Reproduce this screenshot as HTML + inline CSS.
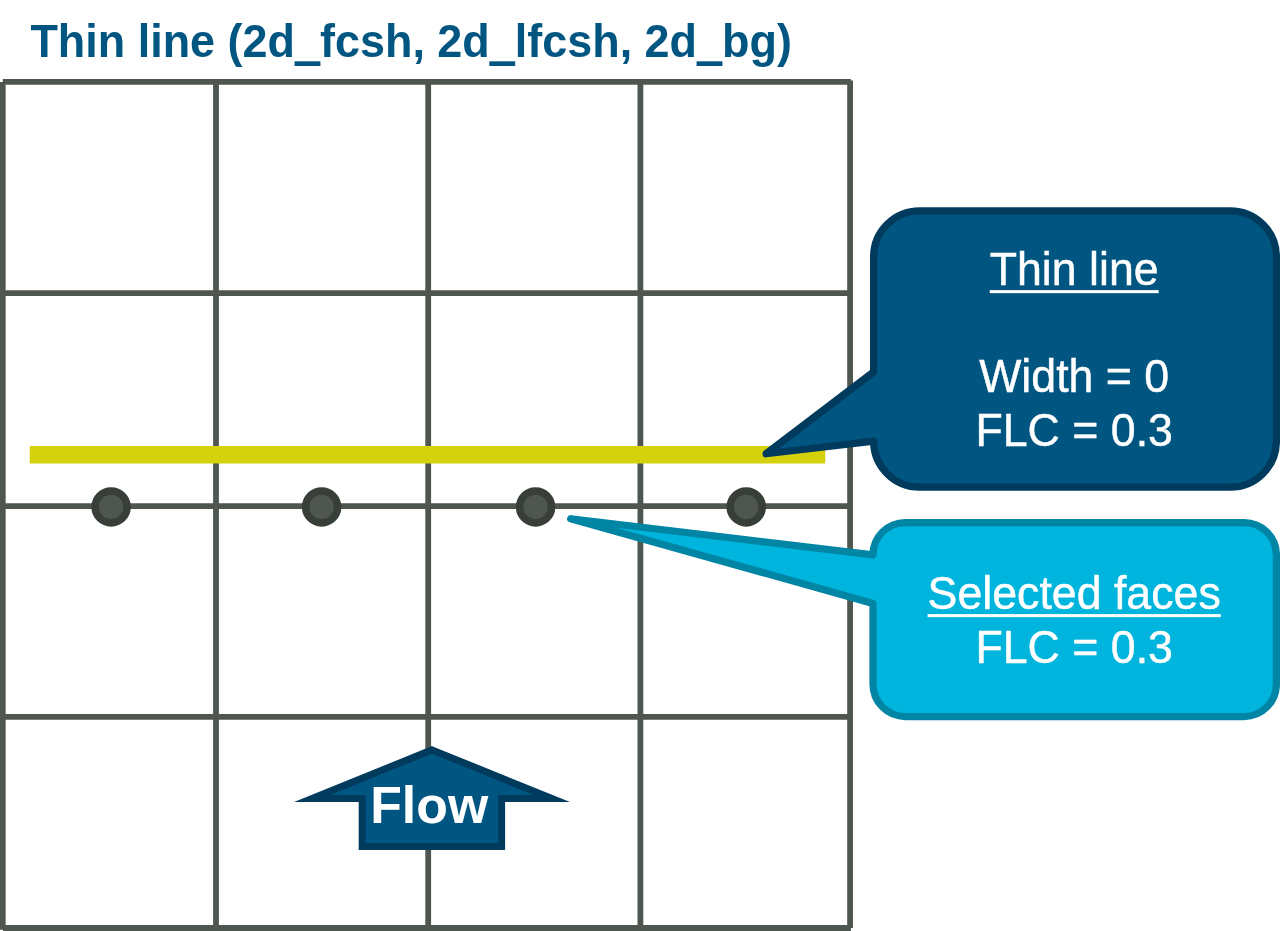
<!DOCTYPE html>
<html lang="en">
<head>
<meta charset="utf-8">
<title>Thin line (2d_fcsh, 2d_lfcsh, 2d_bg)</title>
<style>
html,body{margin:0;padding:0;background:#fff;}
body{width:1280px;height:931px;overflow:hidden;}
#stage{position:relative;width:1280px;height:931px;overflow:hidden;will-change:transform;}
svg{display:block;position:absolute;left:0;top:0;}
.note{position:absolute;left:874.2px;top:0;width:400px;height:0;color:#fff;font-family:"Liberation Sans",Arial,Helvetica,sans-serif;font-size:44.7px;line-height:54px;white-space:nowrap;-webkit-text-stroke:0.45px #fff;}
.note p{position:absolute;left:0;width:400px;margin:0;padding:0;height:54px;text-align:center;transform-origin:200px 42px;transform:scaleY(1.02);}
.note p.caps{transform:scaleY(1.055);}
.note p.mid{transform:scaleY(1.035);}
text{font-family:"Liberation Sans",Arial,Helvetica,sans-serif;}
.ul{text-decoration:underline;text-decoration-thickness:3px;text-underline-offset:5px;text-decoration-skip-ink:none;}
</style>
</head>
<body>
<div id="stage">
<svg width="1280" height="931" viewBox="0 0 1280 931">
<rect width="1280" height="931" fill="#ffffff"/>
<!-- title -->
<text transform="translate(30.4 57) scale(1 1.01)" x="0" y="0" font-size="44.95" font-weight="bold" fill="#005581">Thin line (2d<tspan class="us" font-size="121" textLength="25" lengthAdjust="spacingAndGlyphs" dy="-5.8">_</tspan><tspan dy="5.8">fcsh, 2d</tspan><tspan class="us" font-size="121" textLength="25" lengthAdjust="spacingAndGlyphs" dy="-5.8">_</tspan><tspan dy="5.8">lfcsh, 2d</tspan><tspan class="us" font-size="121" textLength="25" lengthAdjust="spacingAndGlyphs" dy="-5.8">_</tspan><tspan dy="5.8">bg)</tspan></text>
<!-- grid -->
<g stroke="#4f5650" stroke-width="5.8" fill="none">
<line x1="2.75" y1="82" x2="2.75" y2="929.8"/>
<line x1="216" y1="82" x2="216" y2="928"/>
<line x1="428.2" y1="82" x2="428.2" y2="928"/>
<line x1="640.4" y1="82" x2="640.4" y2="928"/>
<line x1="850.1" y1="80.5" x2="850.1" y2="928.1"/>
<line x1="2.8" y1="81.9" x2="850.9" y2="81.9"/>
<line x1="2.9" y1="293.2" x2="850.2" y2="293.2"/>
<line x1="2.9" y1="506.2" x2="850.2" y2="506.2"/>
<line x1="2.9" y1="716.8" x2="850.2" y2="716.8"/>
<line x1="3" y1="928" x2="850.9" y2="928"/>
</g>
<!-- thin line -->
<rect x="29.75" y="446" width="795.5" height="17.5" fill="#d5d10a"/>
<!-- face dots -->
<g fill="#4f5650" stroke="#383e38" stroke-width="7.5">
<circle cx="111.1" cy="506.9" r="16"/>
<circle cx="321.6" cy="506.9" r="16"/>
<circle cx="535.6" cy="506.9" r="16"/>
<circle cx="746.2" cy="506.9" r="16"/>
</g>
<!-- dark callout -->
<path d="M919.7 210.75 H1230.3 A46.1 46.1 0 0 1 1276.4 256.85 V441.1 A46.1 46.1 0 0 1 1230.3 487.2 H919.7 A46.1 46.1 0 0 1 873.6 441.1 L766.1 453.75 L873.6 372 V256.85 A46.1 46.1 0 0 1 919.7 210.75 Z" fill="#005581" stroke="#003b5e" stroke-width="7.25" stroke-linejoin="round"/>
<!-- light callout -->
<path d="M905.3 522.6 H1244.1 A32.3 32.3 0 0 1 1276.4 554.9 V684.2 A32.3 32.3 0 0 1 1244.1 716.5 H905.3 A32.3 32.3 0 0 1 873 684.2 V603.4 L570.7 518.75 L873 554.9 A32.3 32.3 0 0 1 905.3 522.6 Z" fill="#00b5dd" stroke="#0086a4" stroke-width="7.25" stroke-linejoin="round"/>
<!-- flow arrow -->
<path d="M432 749.9 L552 798.5 H501.6 V846.5 H362.2 V798.5 H312 Z" fill="#005581" stroke="#003b5e" stroke-width="7" stroke-linejoin="miter" stroke-miterlimit="10"/>
<text transform="translate(429.2 823.2) scale(1 1.01)" font-size="51.8" font-weight="bold" fill="#ffffff" text-anchor="middle">Flow</text>
</svg>
<div class="note">
<p class="ul" style="top:243px">Thin line</p>
<p class="mid" style="top:350px">Width = 0</p>
<p class="caps" style="top:404px">FLC = 0.3</p>
</div>
<div class="note">
<p class="ul" style="top:567px">Selected faces</p>
<p class="caps" style="top:621px">FLC = 0.3</p>
</div>
</div>
</body>
</html>
